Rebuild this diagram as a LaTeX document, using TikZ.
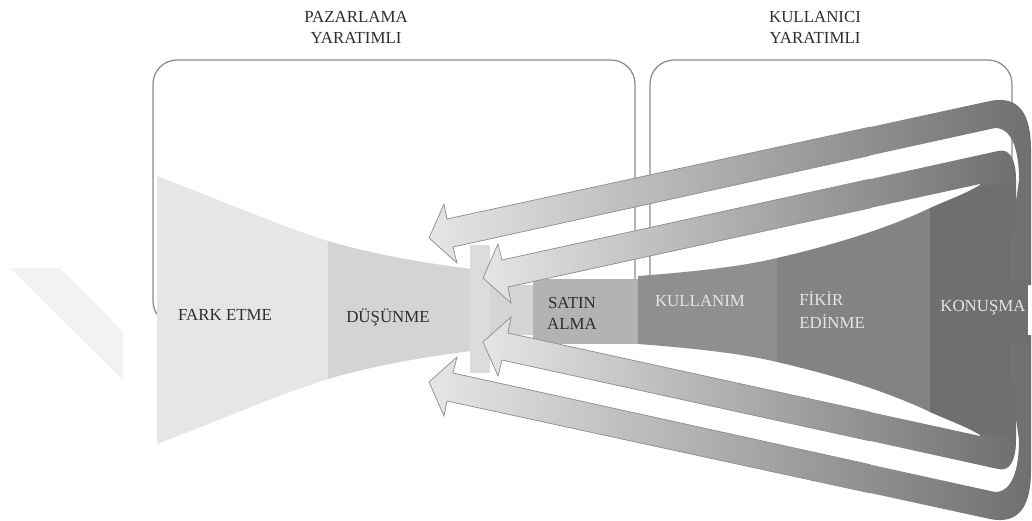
\documentclass[tikz,border=0pt]{standalone}
\usepackage{fontspec}
\setmainfont{Liberation Serif}
\definecolor{farkgray}{HTML}{E6E6E6}
\definecolor{dusgray}{HTML}{D4D4D4}
\definecolor{bargray}{HTML}{DCDCDC}
\definecolor{satingray}{HTML}{B3B3B3}
\definecolor{kullgray}{HTML}{8F8F8F}
\definecolor{fikirgray}{HTML}{838383}
\definecolor{konusgray}{HTML}{6F6F6F}

\newcommand{\outerband}{(429,238) -- (444,204) -- (447,219) -- (990,101)
  .. controls (1020,95) and (1031,115) .. (1031,150) -- (1031,285)
  -- (1000,285) -- (1012,228) -- (1019,180)
  .. controls (1019,150) and (1012,128) .. (995,128)
  -- (453,247) -- (457,263) -- cycle}
\newcommand{\innerband}{(483,278) -- (498,244) -- (502,260) -- (998,151)
  .. controls (1010,148) and (1016,160) .. (1016,180) -- (1016,230)
  -- (1000,262) -- (980,262) -- (980,184) -- (508,287) -- (511,303) -- cycle}

\begin{document}
\begin{tikzpicture}[x=0.025cm, y=-0.025cm,
                    frame/.style={draw=black!45, line width=0.9pt, rounded corners=0.6cm},
                    band/.style={left color=black!10, right color=konusgray},
                    band edge/.style={draw=black!45, line width=0.5pt},
                    stage/.style={font=\fontsize{12}{15}\selectfont, text=black!82, inner sep=0pt},
                    light stage/.style={stage, text=white!90!black}]

  \useasboundingbox (0,0) rectangle (1032,520);
  \fill[white] (0,0) rectangle (1032,520);
  \fill[black!5] (10,268) -- (60,268) -- (123,332) -- (123,380) -- cycle;

  \draw[frame] (180,325) -- (153,325) -- (153,60) -- (635,60) -- (635,325) -- (610,325);
  \draw[frame] (650,300) -- (650,60) -- (1012,60) -- (1012,300);

  \fill[farkgray] (157,176) .. controls (230,204) and (280,226) .. (328,241)
    -- (328,379) .. controls (280,394) and (230,416) .. (157,444) -- cycle;
  \fill[dusgray] (328,241) .. controls (380,256) and (430,264) .. (480,270)
    -- (508,285) -- (533,285) -- (533,335) -- (508,335) -- (480,350)
    .. controls (430,356) and (380,364) .. (328,379) -- cycle;
  \fill[bargray] (470,245) rectangle (490,373);
  \fill[satingray] (533,279) rectangle (638,344);
  \fill[kullgray] (638,276) .. controls (690,272) and (740,267) .. (777,258)
    -- (777,362) .. controls (740,353) and (690,348) .. (638,344) -- cycle;
  \fill[fikirgray] (777,258) .. controls (820,248) and (880,232) .. (930,208)
    -- (930,412) .. controls (880,388) and (820,372) .. (777,362) -- cycle;

  \foreach \flip in {1,-1}{
    \begin{scope}[shift={(0,310)}, yscale=\flip, shift={(0,-310)}]
      \path[band] \outerband;
      \path[band] \innerband;
      \begin{scope}
        \clip (0,0) rectangle (870,520);
        \path[band edge] \outerband;
        \path[band edge] \innerband;
      \end{scope}
    \end{scope}
  }

  \fill[konusgray] (930,208) .. controls (950,199) and (965,194) .. (980,185)
    -- (1010,185) -- (1010,435) -- (980,435)
    .. controls (965,426) and (950,421) .. (930,412) -- cycle;
  \fill[konusgray] (1000,280) rectangle (1028,343);

  \node[stage, align=center] (pazarlama) at (356,27) {PAZARLAMA\\YARATIMLI};
  \node[stage, align=center] (kullanici) at (815,27) {KULLANICI\\YARATIMLI};
  \node[stage] (fark) at (225,315) {FARK ETME};
  \node[stage] (dusunme) at (388,317) {DÜŞÜNME};
  \node[stage, align=center] (satin) at (572,313) {SATIN\\ALMA};
  \node[light stage] (kullanim) at (700,301) {KULLANIM};
  \node[light stage, align=left, anchor=west] (fikir) at (799,310) {FİKİR\\[2pt]EDİNME};
  \node[light stage] (konusma) at (983,308) {KONUŞMA};
\end{tikzpicture}
\end{document}
